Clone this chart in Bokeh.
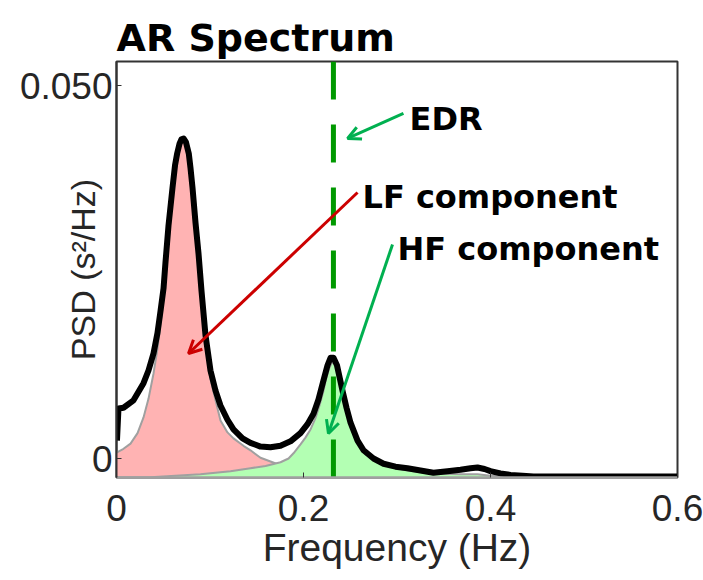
from bokeh.plotting import figure
from bokeh.models import Range1d, FixedTicker, Label, Arrow, OpenHead
from bokeh.embed import file_html
from bokeh.resources import INLINE

# ---------------- data ----------------
freq_total = [0.0005, 0.0021, 0.0075, 0.0182, 0.0289, 0.0342, 0.0396, 0.0438, 0.0471, 0.0503,
              0.0524, 0.0556, 0.0599, 0.0626, 0.0649, 0.0674, 0.0695, 0.0717, 0.0743, 0.0773,
              0.0791, 0.0813, 0.0845, 0.0877, 0.0909, 0.0952, 0.1005, 0.1059, 0.1112, 0.1187,
              0.1251, 0.1348, 0.1433, 0.1540, 0.1647, 0.1754, 0.1861, 0.1968, 0.2043, 0.2107,
              0.2160, 0.2214, 0.2257, 0.2289, 0.2321, 0.2358, 0.2417, 0.2460, 0.2503, 0.2578,
              0.2642, 0.2749, 0.2856, 0.2984, 0.3112, 0.3251, 0.3390, 0.3540, 0.3679, 0.3786,
              0.3861, 0.3936, 0.4000, 0.4107, 0.4214, 0.4342, 0.4460, 0.4749, 0.5176, 0.6000]
psd_total = [0.0024, 0.0067, 0.0068, 0.0078, 0.0101, 0.0118, 0.0141, 0.0168, 0.0198, 0.0228,
             0.0263, 0.0312, 0.0363, 0.0393, 0.0409, 0.0422, 0.0428, 0.0429, 0.0424, 0.0409,
             0.0390, 0.0363, 0.0316, 0.0275, 0.0225, 0.0165, 0.0118, 0.0091, 0.0071, 0.0052,
             0.0039, 0.0027, 0.0021, 0.0016, 0.0015, 0.0017, 0.0023, 0.0034, 0.0046, 0.0060,
             0.0079, 0.0105, 0.0125, 0.0135, 0.0135, 0.0125, 0.0091, 0.0068, 0.0048, 0.0024,
             0.0011, 0.0000, -0.0007, -0.0011, -0.0013, -0.0016, -0.0019, -0.0017, -0.0015, -0.0013,
             -0.0012, -0.0014, -0.0017, -0.0020, -0.0022, -0.0023, -0.0024, -0.0024, -0.0024, -0.0024]

freq_lf = [0.0, 0.0075, 0.0150, 0.0225, 0.0289, 0.0342, 0.0396, 0.0438, 0.0471, 0.0503,
           0.0535, 0.0567, 0.0599, 0.0631, 0.0652, 0.0679, 0.0706, 0.0733, 0.0759, 0.0791,
           0.0813, 0.0845, 0.0877, 0.0920, 0.0952, 0.1005, 0.1059, 0.1112, 0.1187, 0.1251,
           0.1358, 0.1433, 0.1540, 0.1647, 0.1754, 0.1861, 0.1968, 0.2289, 0.2610, 0.3038,
           0.3572, 0.6000]
psd_lf = [0.0008, 0.0013, 0.0020, 0.0034, 0.0055, 0.0080, 0.0114, 0.0147, 0.0181, 0.0214,
          0.0259, 0.0306, 0.0353, 0.0389, 0.0403, 0.0421, 0.0429, 0.0425, 0.0410, 0.0386,
          0.0359, 0.0312, 0.0268, 0.0212, 0.0155, 0.0107, 0.0078, 0.0051, 0.0035, 0.0027,
          0.0017, 0.0011, 0.0001, -0.0004, -0.0009, -0.0013, -0.0016, -0.0020, -0.0023, -0.0024,
          -0.0025, -0.0025]

freq_hf = [0.0, 0.0364, 0.0898, 0.1219, 0.1433, 0.1594, 0.1754, 0.1840, 0.1893, 0.1968,
           0.2021, 0.2075, 0.2128, 0.2171, 0.2214, 0.2246, 0.2278, 0.2305, 0.2332, 0.2364,
           0.2396, 0.2428, 0.2471, 0.2503, 0.2556, 0.2610, 0.2674, 0.2770, 0.2930, 0.3112,
           0.3390, 0.3679, 0.3861, 0.4000, 0.4214, 0.6000]
psd_hf = [-0.0025, -0.0025, -0.0021, -0.0017, -0.0013, -0.0010, -0.0005, 0.0000, 0.0007, 0.0019,
          0.0028, 0.0039, 0.0054, 0.0071, 0.0091, 0.0109, 0.0122, 0.0129, 0.0127, 0.0119,
          0.0105, 0.0086, 0.0064, 0.0047, 0.0028, 0.0015, 0.0005, -0.0003, -0.0011, -0.0016,
          -0.0020, -0.0021, -0.0021, -0.0023, -0.0025, -0.0025]

edr_freq = 0.232

x_ticks = [0, 0.2, 0.4, 0.6]
x_tick_labels = ["0", "0.2", "0.4", "0.6"]
y_ticks = [0, 0.05]
y_tick_labels = ["0", "0.050"]

Y_MIN = -0.002547
Y_MAX = 0.05322

# ---------------- figure ----------------
p = figure(width=703, height=580, output_backend="svg", toolbar_location=None,
           x_range=Range1d(0, 0.6), y_range=Range1d(Y_MIN, Y_MAX),
           min_border_left=116, min_border_right=26, min_border_top=61, min_border_bottom=103,
           background_fill_color="white", border_fill_color="white",
           outline_line_color="#333333", outline_line_width=2)
p.grid.visible = False

# title
p.title.text = "AR Spectrum"
p.title.text_font = "DejaVu Sans"
p.title.text_font_style = "bold"
p.title.text_font_size = "38px"
p.title.text_color = "black"
p.title.align = "left"
p.title.standoff = 4

# components
p.varea(x=freq_lf, y1=Y_MIN, y2=psd_lf, fill_color="#ffb3b3")
p.line(freq_lf, psd_lf, line_color="#a0a0a0", line_width=2, line_join="round")
p.varea(x=freq_hf, y1=Y_MIN, y2=psd_hf, fill_color="#b3ffb3")
p.line(freq_hf, psd_hf, line_color="#a0a0a0", line_width=2, line_join="round")

# EDR dashed line
p.line(x=[edr_freq, edr_freq], y=[Y_MAX, Y_MIN], line_color="#009900", line_width=5,
       line_dash="38 25")

# total spectrum
p.line(freq_total, psd_total, line_color="black", line_width=6, line_join="round")

# axes
font_ax = "Liberation Sans"
for ax in (p.xaxis[0], p.yaxis[0]):
    ax.major_tick_in = 5
    ax.major_tick_out = 0
    ax.minor_tick_line_color = None
    ax.major_label_text_font = font_ax
    ax.major_label_text_font_size = "37px"
    ax.major_label_text_color = "#262626"
    ax.major_tick_line_color = "#333333"
    ax.axis_label_text_font = font_ax
    ax.axis_label_text_font_style = "normal"
    ax.axis_label_text_color = "#262626"

p.xaxis.ticker = FixedTicker(ticks=x_ticks)
p.xaxis.major_label_overrides = dict(zip(x_ticks, x_tick_labels))
p.xaxis.axis_line_color = "#a0a0a0"
p.xaxis.axis_line_width = 2.5
p.xaxis.major_label_standoff = 17
p.xaxis.axis_label = "Frequency (Hz)"
p.xaxis.axis_label_text_font_size = "39px"
p.xaxis.axis_label_standoff = 2

p.yaxis.ticker = FixedTicker(ticks=y_ticks)
p.yaxis.major_label_overrides = dict(zip(y_ticks, y_tick_labels))
p.yaxis.axis_line_color = "#333333"
p.yaxis.axis_line_width = 2
p.yaxis.major_label_standoff = 4
p.yaxis.axis_label = "PSD (s²/Hz)"
p.yaxis.axis_label_text_font_size = "34px"
p.yaxis.axis_label_standoff = -85

# annotations
RED = "#cc0000"
GREEN = "#00b050"
p.add_layout(Arrow(x_start=0.3069, y_start=0.04625, x_end=0.2471, y_end=0.0429,
                   line_color=GREEN, line_width=3,
                   end=OpenHead(size=13, line_color=GREEN, line_width=3)))
p.add_layout(Arrow(x_start=0.2578, y_start=0.03566, x_end=0.0770, y_end=0.01408,
                   line_color=RED, line_width=3,
                   end=OpenHead(size=13, line_color=RED, line_width=3)))
p.add_layout(Arrow(x_start=0.2952, y_start=0.02869, x_end=0.2267, y_end=0.00335,
                   line_color=GREEN, line_width=3,
                   end=OpenHead(size=13, line_color=GREEN, line_width=3)))

for (tx, ty, tt) in [(0.3134, 0.04551, "EDR"), (0.2631, 0.03512, "LF component"),
                     (0.3005, 0.02802, "HF component")]:
    p.add_layout(Label(x=tx, y=ty, text=tt, text_font="DejaVu Sans", text_font_style="bold",
                       text_font_size="32px", text_color="black", text_baseline="middle"))

open("out.html", "w").write(file_html(p, INLINE))
